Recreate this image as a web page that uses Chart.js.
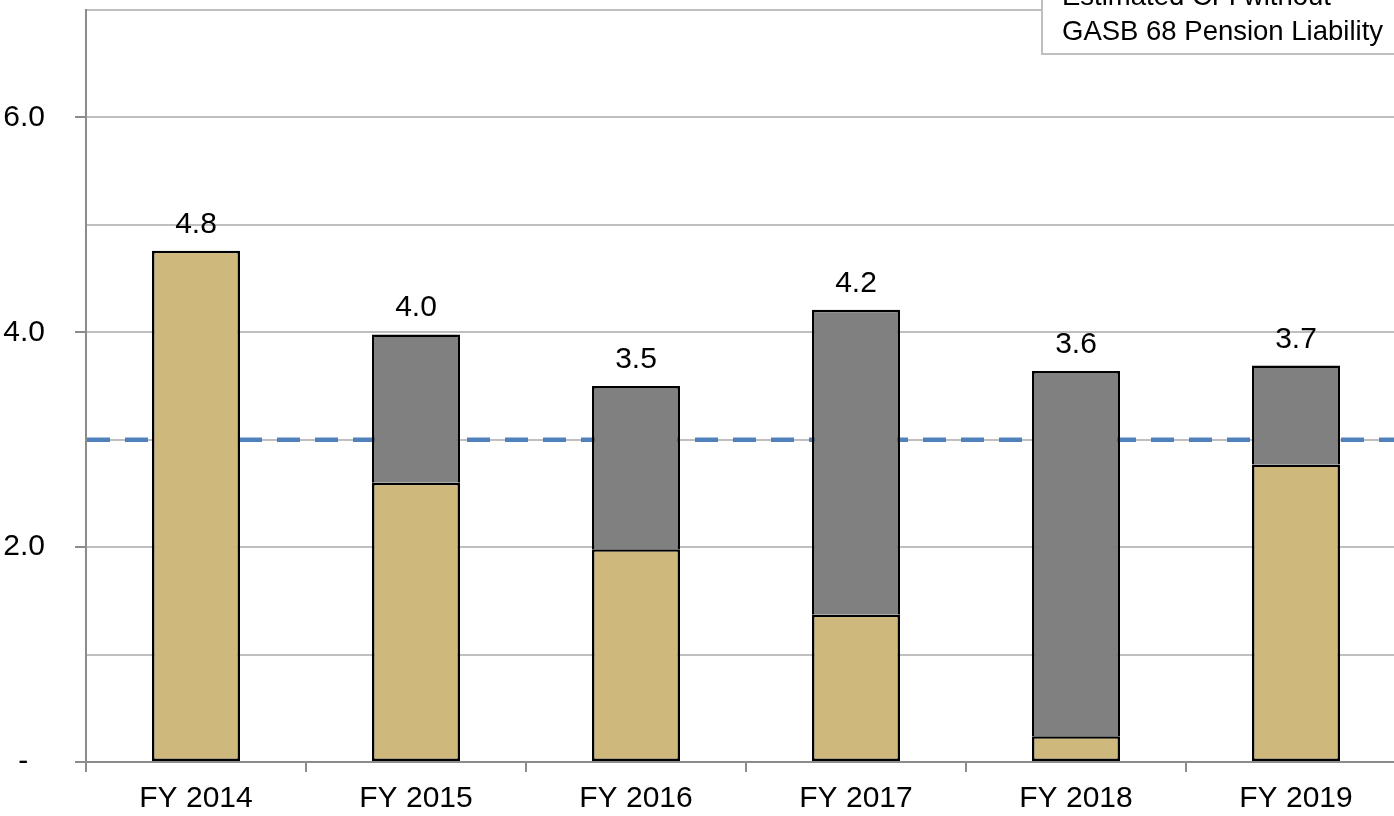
<!DOCTYPE html>
<html>
<head>
<meta charset="utf-8">
<script src="https://cdn.jsdelivr.net/npm/chart.js@4.4.1/dist/chart.umd.min.js"></script>
<style>
  html, body { margin: 0; padding: 0; background: #fff; overflow: hidden; }
  #view { position: relative; width: 1394px; height: 816px; overflow: hidden; }
  #wrap { position: absolute; left: 0; top: -38px; width: 1406px; height: 864px; }
</style>
</head>
<body>
<div id="view"><div id="wrap"><canvas id="cfiChart"></canvas></div></div>
<script>
var years = ["FY 2014", "FY 2015", "FY 2016", "FY 2017", "FY 2018", "FY 2019"];
var cfiWithoutPension = [4.76, 2.60, 1.98, 1.37, 0.24, 2.77];
var pensionEffect = [0, 1.38, 1.52, 2.84, 3.40, 0.92];
var benchmark = 3.0;
var legendLines = ["Estimated CFI without", "GASB 68 Pension Liability"];

var fontName = "'Liberation Sans', Arial, Helvetica, sans-serif";
var shiftTop = 38; // canvas sits 38px above the page top

// dashed benchmark line, drawn under the bars
var benchmarkLine = {
    id: "benchmarkLine",
    beforeDatasetsDraw: function (chart) {
        var ctx = chart.ctx;
        var area = chart.chartArea;
        var y = chart.scales.y.getPixelForValue(benchmark);
        ctx.save();
        ctx.strokeStyle = "#4F81BD";
        ctx.lineWidth = 4.5;
        ctx.setLineDash([23, 15]);
        ctx.beginPath();
        ctx.moveTo(area.left + 1, y);
        ctx.lineTo(area.right, y);
        ctx.stroke();
        ctx.restore();
    }
};

// totals above each stack + the legend box in the corner
var totalsAndBox = {
    id: "totalsAndBox",
    afterDatasetsDraw: function (chart) {
        var ctx = chart.ctx;
        var yScale = chart.scales.y;
        var xScale = chart.scales.x;
        ctx.save();
        ctx.fillStyle = "#000";
        ctx.font = "30px " + fontName;
        ctx.textAlign = "center";
        ctx.textBaseline = "alphabetic";
        for (var i = 0; i < years.length; i++) {
            var total = cfiWithoutPension[i] + pensionEffect[i];
            var x = xScale.getPixelForValue(i);
            var y = yScale.getPixelForValue(total);
            ctx.fillText(total.toFixed(1), x, y - 18);
        }

        // legend box (cut off by the top of the picture)
        var t = shiftTop;
        ctx.fillStyle = "#fff";
        ctx.fillRect(1042, t - 10, 400, 64);
        ctx.strokeStyle = "#BFBFBF";
        ctx.lineWidth = 2;
        ctx.strokeRect(1042, t - 10, 400, 64);
        ctx.fillStyle = "#000";
        ctx.font = "27.5px " + fontName;
        ctx.textAlign = "left";
        ctx.fillText(legendLines[0], 1062, t + 5);
        ctx.fillText(legendLines[1], 1062, t + 40);
        ctx.restore();
    }
};

new Chart("cfiChart", {
    type: "bar",
    data: {
        labels: years,
        datasets: [{
            label: "CFI without pension",
            data: cfiWithoutPension,
            backgroundColor: "#CFB87C",
            borderColor: "#000",
            borderWidth: 2.5,
            borderSkipped: false,
            categoryPercentage: 1.0,
            barPercentage: 0.4
        }, {
            label: "Pension effect",
            data: pensionEffect.map(function (v) { return v === 0 ? null : v; }),
            backgroundColor: "#808080",
            borderColor: "#000",
            borderWidth: 2.5,
            borderSkipped: "bottom",
            categoryPercentage: 1.0,
            barPercentage: 0.4
        }]
    },
    options: {
        responsive: true,
        maintainAspectRatio: false,
        animation: false,
        plugins: {
            legend: { display: false },
            tooltip: { enabled: false }
        },
        scales: {
            x: {
                stacked: true,
                border: { display: true, color: "#8C8C8C", width: 2 },
                grid: {
                    offset: true,
                    drawOnChartArea: false,
                    drawTicks: true,
                    tickLength: 10,
                    color: "#8C8C8C",
                    lineWidth: 2
                },
                ticks: {
                    color: "#000",
                    padding: 9,
                    font: { size: 30, family: fontName }
                }
            },
            y: {
                stacked: true,
                min: 0,
                max: 7,
                afterFit: function (scale) { scale.width = 86; },
                border: { display: true, color: "#8C8C8C", width: 2 },
                grid: {
                    color: "#BFBFBF",
                    lineWidth: 2,
                    tickLength: 11,
                    tickColor: function (c) {
                        return c.tick && c.tick.value % 2 === 0 ? "#8C8C8C" : "rgba(0,0,0,0)";
                    }
                },
                ticks: {
                    stepSize: 1,
                    color: "#000",
                    padding: 30,
                    font: { size: 30, family: fontName },
                    callback: function (v) {
                        if (v === 0) return "-  ";
                        if (v % 2 === 0 && v < 7) return v.toFixed(1);
                        return "";
                    }
                }
            }
        }
    },
    plugins: [benchmarkLine, totalsAndBox]
});
</script>
</body>
</html>
